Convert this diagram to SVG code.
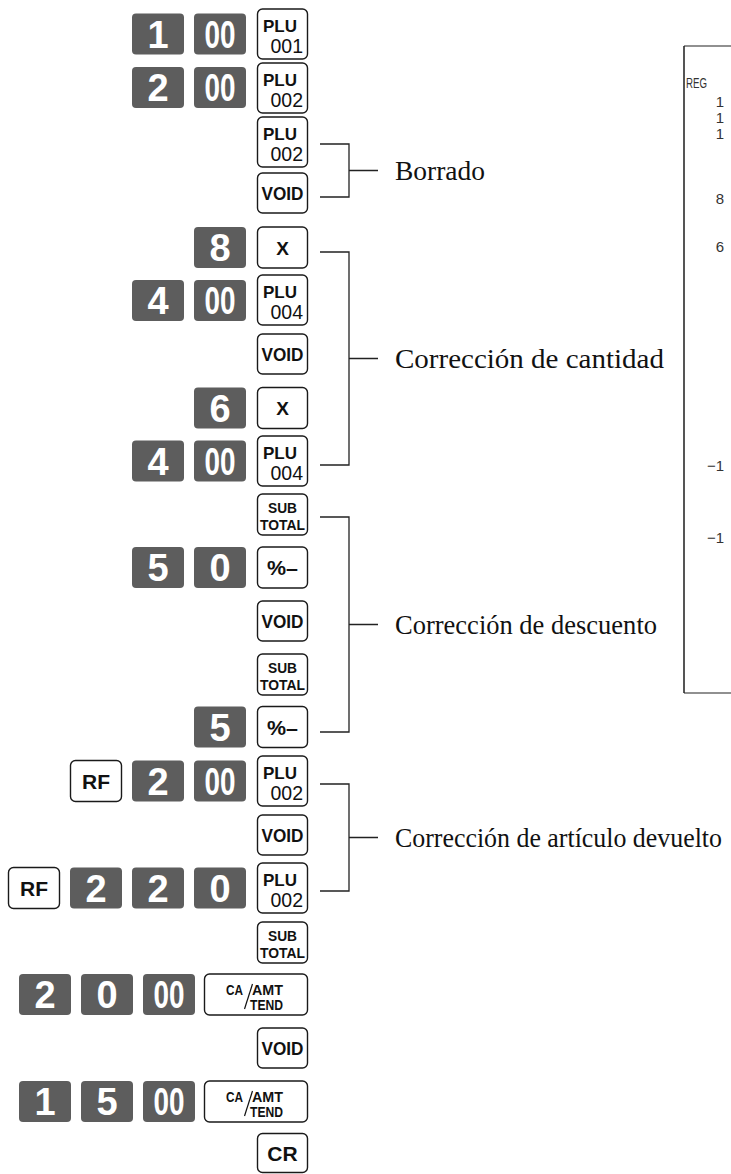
<svg xmlns="http://www.w3.org/2000/svg" width="731" height="1174" viewBox="0 0 731 1174">
<style>
.dk{fill:#5d5d5d}
.dt{font-family:"Liberation Sans",Arial,sans-serif;font-weight:bold;font-size:38px;fill:#fff;text-anchor:middle}
.wk{fill:#fff;stroke:#1a1a1a;stroke-width:1.4}
.wt{font-family:"Liberation Sans",Arial,sans-serif;font-weight:bold;fill:#111}
.pl{font-size:17px}
.pn{font-family:"Liberation Sans",Arial,sans-serif;font-size:19.5px;fill:#111;text-anchor:end}
.vd{font-size:19px;text-anchor:middle}
.st{font-size:14.5px;text-anchor:middle}
.ca{font-size:15px}
.lbl{font-family:"Liberation Serif","Times New Roman",serif;font-size:28px;fill:#111}
.br{fill:none;stroke:#222;stroke-width:1.3}
.rc{font-family:"Liberation Sans",Arial,sans-serif;font-size:15px;fill:#333}
</style>
<g id="connectors">
<path class="br" d="M320,144H349V197H320M349,170.5H378"/>
<path class="br" d="M320,252H349V465H320M349,358.5H378"/>
<path class="br" d="M320,517H349V732H320M349,624.5H378"/>
<path class="br" d="M320,784H349V891H320M349,837.5H378"/>
</g>
<g id="labels">
<text class="lbl" x="395" y="180" textLength="90" lengthAdjust="spacingAndGlyphs">Borrado</text>
<text class="lbl" x="395" y="368" textLength="269" lengthAdjust="spacingAndGlyphs">Corrección de cantidad</text>
<text class="lbl" x="395" y="634" textLength="262" lengthAdjust="spacingAndGlyphs">Corrección de descuento</text>
<text class="lbl" x="395" y="847" font-size="26" textLength="327" lengthAdjust="spacingAndGlyphs">Corrección de artículo devuelto</text>
</g>
<g id="receipt">
<path d="M684,46V693" stroke="#555" stroke-width="2" fill="none"/>
<path d="M684,46H731M684,693H731" stroke="#222" stroke-width="1.2" fill="none"/>
<text class="rc" x="686" y="88" font-size="17" textLength="21" lengthAdjust="spacingAndGlyphs">REG</text>
<text class="rc" x="724" y="106.5" text-anchor="end">1</text>
<text class="rc" x="724" y="122.5" text-anchor="end">1</text>
<text class="rc" x="724" y="138.5" text-anchor="end">1</text>
<text class="rc" x="724" y="203.5" text-anchor="end">8</text>
<text class="rc" x="724" y="251.5" text-anchor="end">6</text>
<text class="rc" x="724" y="470.5" text-anchor="end">−1</text>
<text class="rc" x="724" y="542.5" text-anchor="end">−1</text>
</g>
<!-- row 1 -->
<g id="r1-1"><rect class="dk" x="132" y="13.5" width="52" height="41" rx="4"/><text class="dt" x="158" y="47.5">1</text></g>
<g id="r1-00"><rect class="dk" x="194" y="13.5" width="52" height="41" rx="4"/><text class="dt" x="220" y="47.5" textLength="31" lengthAdjust="spacingAndGlyphs">00</text></g>
<g id="r1-plu"><rect class="wk" x="257.5" y="9" width="50" height="50" rx="5"/><text class="wt pl" x="263" y="32" textLength="34" lengthAdjust="spacingAndGlyphs">PLU</text><text class="pn" x="303" y="53">001</text></g>
<!-- row 2 -->
<g id="r2-2"><rect class="dk" x="132" y="67" width="52" height="41" rx="4"/><text class="dt" x="158" y="101">2</text></g>
<g id="r2-00"><rect class="dk" x="194" y="67" width="52" height="41" rx="4"/><text class="dt" x="220" y="101" textLength="31" lengthAdjust="spacingAndGlyphs">00</text></g>
<g id="r2-plu"><rect class="wk" x="257.5" y="63" width="50" height="50" rx="5"/><text class="wt pl" x="263" y="86" textLength="34" lengthAdjust="spacingAndGlyphs">PLU</text><text class="pn" x="303" y="107">002</text></g>
<!-- row 3 -->
<g id="r3-plu"><rect class="wk" x="257.5" y="117" width="50" height="50" rx="5"/><text class="wt pl" x="263" y="140" textLength="34" lengthAdjust="spacingAndGlyphs">PLU</text><text class="pn" x="303" y="161">002</text></g>
<!-- row 4 -->
<g id="r4-void"><rect class="wk" x="257.5" y="173" width="50" height="40" rx="5"/><text class="wt vd" x="282.5" y="200" textLength="42" lengthAdjust="spacingAndGlyphs">VOID</text></g>
<!-- row 5 -->
<g id="r5-8"><rect class="dk" x="194" y="227" width="52" height="41" rx="4"/><text class="dt" x="220" y="261">8</text></g>
<g id="r5-x"><rect class="wk" x="257.5" y="227" width="50" height="41" rx="5"/><text class="wt vd" x="282.5" y="254.5">X</text></g>
<!-- row 6 -->
<g id="r6-4"><rect class="dk" x="132" y="280" width="52" height="41" rx="4"/><text class="dt" x="158" y="314">4</text></g>
<g id="r6-00"><rect class="dk" x="194" y="280" width="52" height="41" rx="4"/><text class="dt" x="220" y="314" textLength="31" lengthAdjust="spacingAndGlyphs">00</text></g>
<g id="r6-plu"><rect class="wk" x="257.5" y="275" width="50" height="50" rx="5"/><text class="wt pl" x="263" y="298" textLength="34" lengthAdjust="spacingAndGlyphs">PLU</text><text class="pn" x="303" y="319">004</text></g>
<!-- row 7 -->
<g id="r7-void"><rect class="wk" x="257.5" y="334" width="50" height="40" rx="5"/><text class="wt vd" x="282.5" y="361" textLength="42" lengthAdjust="spacingAndGlyphs">VOID</text></g>
<!-- row 8 -->
<g id="r8-6"><rect class="dk" x="194" y="387.5" width="52" height="41" rx="4"/><text class="dt" x="220" y="421.5">6</text></g>
<g id="r8-x"><rect class="wk" x="257.5" y="387.5" width="50" height="41" rx="5"/><text class="wt vd" x="282.5" y="415">X</text></g>
<!-- row 9 -->
<g id="r9-4"><rect class="dk" x="132" y="440.5" width="52" height="41" rx="4"/><text class="dt" x="158" y="474.5">4</text></g>
<g id="r9-00"><rect class="dk" x="194" y="440.5" width="52" height="41" rx="4"/><text class="dt" x="220" y="474.5" textLength="31" lengthAdjust="spacingAndGlyphs">00</text></g>
<g id="r9-plu"><rect class="wk" x="257.5" y="436" width="50" height="50" rx="5"/><text class="wt pl" x="263" y="459" textLength="34" lengthAdjust="spacingAndGlyphs">PLU</text><text class="pn" x="303" y="480">004</text></g>
<!-- row 10 -->
<g id="r10-st"><rect class="wk" x="257.5" y="494" width="50" height="41" rx="5"/><text class="wt st" x="282.5" y="513" textLength="29" lengthAdjust="spacingAndGlyphs">SUB</text><text class="wt st" x="282.5" y="529.5" textLength="45" lengthAdjust="spacingAndGlyphs">TOTAL</text></g>
<!-- row 11 -->
<g id="r11-5"><rect class="dk" x="132" y="547" width="52" height="41" rx="4"/><text class="dt" x="158" y="581">5</text></g>
<g id="r11-0"><rect class="dk" x="194" y="547" width="52" height="41" rx="4"/><text class="dt" x="220" y="581">0</text></g>
<g id="r11-pct"><rect class="wk" x="257.5" y="547" width="50" height="41" rx="5"/><text class="wt" x="282.5" y="575" font-size="20" text-anchor="middle" font-weight="normal" textLength="31" lengthAdjust="spacingAndGlyphs">%–</text></g>
<!-- row 12 -->
<g id="r12-void"><rect class="wk" x="257.5" y="601" width="50" height="40" rx="5"/><text class="wt vd" x="282.5" y="628" textLength="42" lengthAdjust="spacingAndGlyphs">VOID</text></g>
<!-- row 13 -->
<g id="r13-st"><rect class="wk" x="257.5" y="654" width="50" height="41" rx="5"/><text class="wt st" x="282.5" y="673" textLength="29" lengthAdjust="spacingAndGlyphs">SUB</text><text class="wt st" x="282.5" y="689.5" textLength="45" lengthAdjust="spacingAndGlyphs">TOTAL</text></g>
<!-- row 14 -->
<g id="r14-5"><rect class="dk" x="194" y="706.5" width="52" height="41" rx="4"/><text class="dt" x="220" y="740.5">5</text></g>
<g id="r14-pct"><rect class="wk" x="257.5" y="706.5" width="50" height="41" rx="5"/><text class="wt" x="282.5" y="734.5" font-size="20" text-anchor="middle" font-weight="normal" textLength="31" lengthAdjust="spacingAndGlyphs">%–</text></g>
<!-- row 15 -->
<g id="r15-rf"><rect class="wk" x="70.5" y="760.5" width="51" height="41" rx="5"/><text class="wt" x="96" y="788.5" font-size="21" text-anchor="middle">RF</text></g>
<g id="r15-2"><rect class="dk" x="132" y="760.5" width="52" height="41" rx="4"/><text class="dt" x="158" y="794.5">2</text></g>
<g id="r15-00"><rect class="dk" x="194" y="760.5" width="52" height="41" rx="4"/><text class="dt" x="220" y="794.5" textLength="31" lengthAdjust="spacingAndGlyphs">00</text></g>
<g id="r15-plu"><rect class="wk" x="257.5" y="756" width="50" height="50" rx="5"/><text class="wt pl" x="263" y="779" textLength="34" lengthAdjust="spacingAndGlyphs">PLU</text><text class="pn" x="303" y="800">002</text></g>
<!-- row 16 -->
<g id="r16-void"><rect class="wk" x="257.5" y="815" width="50" height="40" rx="5"/><text class="wt vd" x="282.5" y="842" textLength="42" lengthAdjust="spacingAndGlyphs">VOID</text></g>
<!-- row 17 -->
<g id="r17-rf"><rect class="wk" x="8.5" y="867.5" width="51" height="41" rx="5"/><text class="wt" x="34" y="895.5" font-size="21" text-anchor="middle">RF</text></g>
<g id="r17-2a"><rect class="dk" x="70" y="867.5" width="52" height="41" rx="4"/><text class="dt" x="96" y="901.5">2</text></g>
<g id="r17-2b"><rect class="dk" x="132" y="867.5" width="52" height="41" rx="4"/><text class="dt" x="158" y="901.5">2</text></g>
<g id="r17-0"><rect class="dk" x="194" y="867.5" width="52" height="41" rx="4"/><text class="dt" x="220" y="901.5">0</text></g>
<g id="r17-plu"><rect class="wk" x="257.5" y="863" width="50" height="50" rx="5"/><text class="wt pl" x="263" y="886" textLength="34" lengthAdjust="spacingAndGlyphs">PLU</text><text class="pn" x="303" y="907">002</text></g>
<!-- row 18 -->
<g id="r18-st"><rect class="wk" x="257.5" y="922" width="50" height="41" rx="5"/><text class="wt st" x="282.5" y="941" textLength="29" lengthAdjust="spacingAndGlyphs">SUB</text><text class="wt st" x="282.5" y="957.5" textLength="45" lengthAdjust="spacingAndGlyphs">TOTAL</text></g>
<!-- row 19 -->
<g id="r19-2"><rect class="dk" x="19" y="974" width="52" height="41" rx="4"/><text class="dt" x="45" y="1008">2</text></g>
<g id="r19-0"><rect class="dk" x="81" y="974" width="52" height="41" rx="4"/><text class="dt" x="107" y="1008">0</text></g>
<g id="r19-00"><rect class="dk" x="143" y="974" width="52" height="41" rx="4"/><text class="dt" x="169" y="1008" textLength="31" lengthAdjust="spacingAndGlyphs">00</text></g>
<g id="r19-ca"><rect class="wk" x="204.5" y="974" width="103" height="41" rx="5"/><text class="wt" x="243" y="994.5" text-anchor="end" font-size="14" font-weight="normal" textLength="17" lengthAdjust="spacingAndGlyphs">CA</text><path d="M244.5,1009L252.5,984" stroke="#111" stroke-width="1.2"/><text class="wt ca" x="252" y="994.5" textLength="31" lengthAdjust="spacingAndGlyphs">AMT</text><text class="wt ca" x="250" y="1009.5" textLength="33" lengthAdjust="spacingAndGlyphs">TEND</text></g>
<!-- row 20 -->
<g id="r20-void"><rect class="wk" x="257.5" y="1028" width="50" height="40" rx="5"/><text class="wt vd" x="282.5" y="1055" textLength="42" lengthAdjust="spacingAndGlyphs">VOID</text></g>
<!-- row 21 -->
<g id="r21-1"><rect class="dk" x="19" y="1081" width="52" height="41" rx="4"/><text class="dt" x="45" y="1115">1</text></g>
<g id="r21-5"><rect class="dk" x="81" y="1081" width="52" height="41" rx="4"/><text class="dt" x="107" y="1115">5</text></g>
<g id="r21-00"><rect class="dk" x="143" y="1081" width="52" height="41" rx="4"/><text class="dt" x="169" y="1115" textLength="31" lengthAdjust="spacingAndGlyphs">00</text></g>
<g id="r21-ca"><rect class="wk" x="204.5" y="1081" width="103" height="41" rx="5"/><text class="wt" x="243" y="1101.5" text-anchor="end" font-size="14" font-weight="normal" textLength="17" lengthAdjust="spacingAndGlyphs">CA</text><path d="M244.5,1116L252.5,1091" stroke="#111" stroke-width="1.2"/><text class="wt ca" x="252" y="1101.5" textLength="31" lengthAdjust="spacingAndGlyphs">AMT</text><text class="wt ca" x="250" y="1116.5" textLength="33" lengthAdjust="spacingAndGlyphs">TEND</text></g>
<!-- row 22 -->
<g id="r22-cr"><rect class="wk" x="257.5" y="1133.5" width="50" height="39" rx="5"/><text class="wt" x="282.5" y="1161" font-size="21" text-anchor="middle">CR</text></g>
</svg>
